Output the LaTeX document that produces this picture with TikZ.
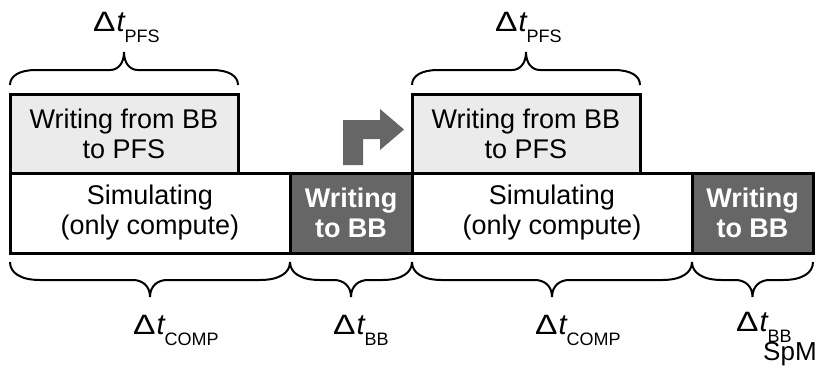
\documentclass[tikz,border=0pt]{standalone}
\usepackage{fontspec}
\setmainfont{Liberation Sans}
\usepackage{graphicx}
\definecolor{lightbox}{HTML}{EBEBEB}
\definecolor{darkbox}{HTML}{666666}
\newcommand{\boxfont}{\fontsize{27}{30}\selectfont}
\newcommand{\dtlabel}[1]{\scalebox{1.2}[1]{\fontsize{28}{28}\selectfont Δ}\hspace{1pt}{\fontsize{29}{29}\selectfont\itshape t}\raisebox{-11pt}{\fontsize{18}{18}\selectfont #1}}
\newcommand{\curlybr}[7]{%
 \draw[brc] (#1,#3) .. controls (#1,{#3+0.6*(#4-#3)}) and ({#1+0.35*#6},#4) .. ({#1+#6},#4)
 -- ({(#1+#2)/2-#7},#4) .. controls ({(#1+#2)/2-0.45*#7},#4) and ({(#1+#2)/2},{#4+0.35*(#5-#4)}) .. ({(#1+#2)/2},#5)
 .. controls ({(#1+#2)/2},{#4+0.35*(#5-#4)}) and ({(#1+#2)/2+0.45*#7},#4) .. ({(#1+#2)/2+#7},#4)
 -- ({#2-#6},#4) .. controls ({#2-0.35*#6},#4) and (#2,{#3+0.6*(#4-#3)}) .. (#2,#3);}
\begin{document}
\begin{tikzpicture}[x=1pt,y=-1pt,
  tbox/.style={draw=black, line width=3pt, inner sep=0pt, align=center, font=\boxfont},
  graybox/.style={tbox, fill=lightbox, minimum width=228pt, minimum height=79pt},
  simbox/.style={tbox, fill=white, minimum width=280pt, minimum height=80pt},
  darkbx/.style={tbox, fill=darkbox, text=white, font=\boxfont\bfseries, minimum height=80pt},
  brc/.style={line width=2pt, black},
  lbl/.style={anchor=base west, inner sep=0pt}]
\useasboundingbox (0,0) rectangle (819,368);
% bottom row
\node[simbox] (s1) at (150,213) {Simulating\\(only compute)};
\node[darkbx, minimum width=122pt] (d1) at (351,213) {Writing\\to BB};
\node[simbox] (s2) at (552,213) {Simulating\\(only compute)};
\node[darkbx, minimum width=121pt] (d2) at (752.5,213) {Writing\\to BB};
% top boxes
\node[graybox] (g1) at (124,133.5) {Writing from BB\\to PFS};
\node[graybox] (g2) at (526,133.5) {Writing from BB\\to PFS};
% bent arrow
\fill[darkbox] (343,165) -- (343,120) -- (380,120) -- (380,109) -- (404,129.5) -- (380,150) -- (380,139) -- (363,139) -- (363,165) -- cycle;
% braces
\curlybr{10}{238}{85}{70}{52}{26}{14}
\curlybr{412}{640}{85}{70}{52}{26}{14}
\curlybr{10}{290}{262}{280}{297}{30}{17}
\curlybr{290}{412}{262}{280}{297}{30}{17}
\curlybr{412}{692}{262}{280}{297}{30}{17}
\curlybr{692}{813}{262}{280}{297}{30}{17}
% labels
\node[lbl] (l1) at (93,31) {\dtlabel{PFS}};
\node[lbl] (l2) at (495,31) {\dtlabel{PFS}};
\node[lbl] (l3) at (133,334) {\dtlabel{COMP}};
\node[lbl] (l4) at (333,334) {\dtlabel{BB}};
\node[lbl] (l5) at (535,334) {\dtlabel{COMP}};
\node[lbl] (l6) at (736,331) {\dtlabel{BB}};
\node[lbl] (spm) at (763,360) {\fontsize{26}{26}\selectfont SpM};
\end{tikzpicture}
\end{document}
